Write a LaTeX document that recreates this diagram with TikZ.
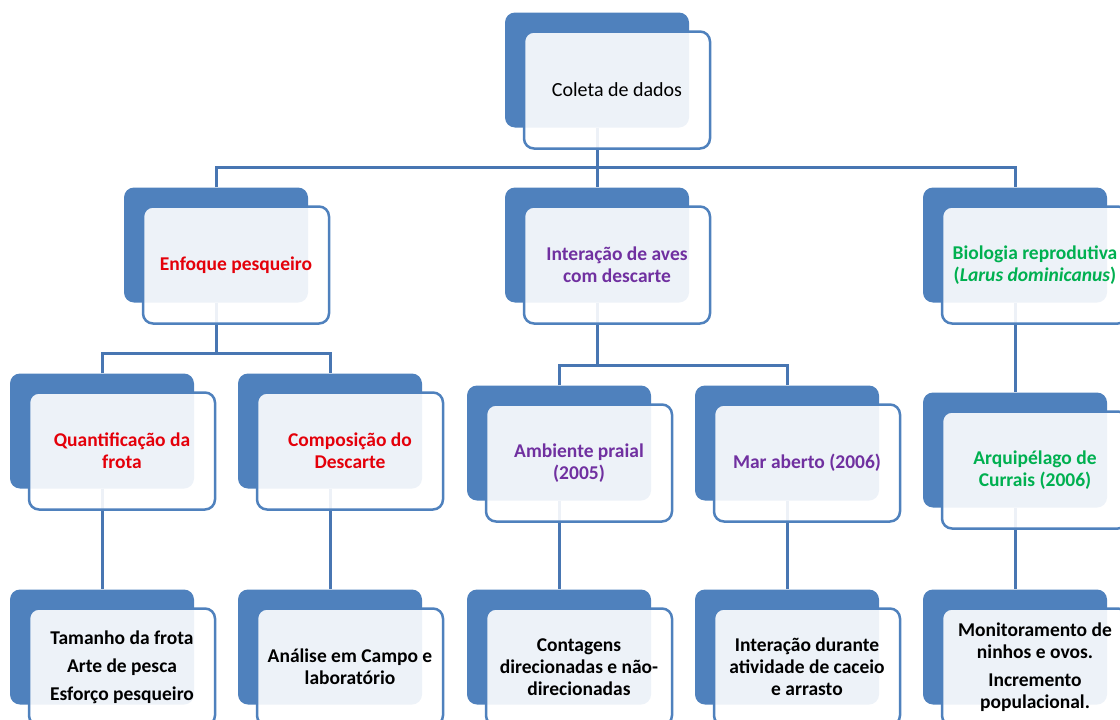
\documentclass[tikz,border=0pt]{standalone}
\usepackage{fontspec}
\setmainfont{Carlito}
\usetikzlibrary{backgrounds}
\definecolor{smartblue}{RGB}{79,129,189}
\definecolor{linkblue}{RGB}{72,118,178}
\definecolor{fishred}{RGB}{228,0,10}
\definecolor{birdpurple}{RGB}{112,48,160}
\definecolor{gullgreen}{RGB}{0,176,80}
\tikzset{
  backbox/.style={rectangle,rounded corners=10pt,fill=smartblue,minimum width=184pt,minimum height=115pt,inner sep=0pt},
  frontbox/.style={rectangle,rounded corners=10pt,draw=smartblue,line width=2.5pt,fill=white,fill opacity=0.9,text opacity=1,
    minimum width=186pt,minimum height=117pt,inner sep=2pt,align=center,font=\fontsize{19.5}{22}\selectfont\bfseries},
  link/.style={draw=linkblue,line width=3pt}
}

\begin{document}
\begin{tikzpicture}[x=1pt,y=-1pt]
        \useasboundingbox (0,0) rectangle (1120,720);
        \clip (0,0) rectangle (1120,720);

        % top
        \node[backbox] (coleta) at (597,70) {};
        \node[frontbox,font=\fontsize{20}{24}\selectfont] (coletatxt) at (617,90) {Coleta de dados};

        % first level
        \node[backbox] (enfoque) at (216,245) {};
        \node[frontbox,text=fishred] (enfoquetxt) at (236,265) {Enfoque pesqueiro};
        \node[backbox] (interacao) at (597,245) {};
        \node[frontbox,text=birdpurple] (interacaotxt) at (617,265) {Interação de aves\\com descarte};
        \node[backbox] (biologia) at (1015,245) {};
        \node[frontbox,text=gullgreen] (biologiatxt) at (1035,265) {Biologia reprodutiva\\(\textit{Larus dominicanus})};

        % second level
        \node[backbox] (frota) at (102,431) {};
        \node[frontbox,text=fishred] (frotatxt) at (122,451) {Quantificação da\\frota};
        \node[backbox] (descarte) at (330,431) {};
        \node[frontbox,text=fishred] (descartetxt) at (350,451) {Composição do\\Descarte};
        \node[backbox] (praial) at (559,443) {};
        \node[frontbox,text=birdpurple] (praialtxt) at (579,463) {Ambiente praial\\(2005)};
        \node[backbox] (mar) at (787,443) {};
        \node[frontbox,text=birdpurple] (martxt) at (807,463) {Mar aberto (2006)};
        \node[backbox] (currais) at (1015,450) {};
        \node[frontbox,text=gullgreen] (curraistxt) at (1035,470) {Arquipélago de\\Currais (2006)};

        % third level
        \node[backbox] (tamanho) at (102,647) {};
        \node[frontbox] (tamanhotxt) at (122,667) {Tamanho da frota\\[6pt]Arte de pesca\\[6pt]Esforço pesqueiro};
        \node[backbox] (analise) at (330,647) {};
        \node[frontbox] (analisetxt) at (350,667) {Análise em Campo e\\laboratório};
        \node[backbox] (contagens) at (559,647) {};
        \node[frontbox] (contagenstxt) at (579,667) {Contagens\\direcionadas e não-\\direcionadas};
        \node[backbox] (caceio) at (787,647) {};
        \node[frontbox] (caceiotxt) at (807,667) {Interação durante\\atividade de caceio\\e arrasto};
        \node[backbox] (ninhos) at (1015,647) {};
        \node[frontbox] (ninhostxt) at (1035,667) {Monitoramento de\\ninhos e ovos.\\[6pt]Incremento\\populacional.};

        \coordinate (bus1) at (597,167);
        \coordinate (bus2) at (216,353);
        \coordinate (bus3) at (597,365);

        \begin{scope}[on background layer]
            \draw[link] (coleta) -- (bus1);
            \draw[link] (enfoque.north) |- (bus1) -| (biologia.north);
            \draw[link] (bus1) -- (interacao.north);
            \draw[link] (enfoque) -- (bus2);
            \draw[link] (frota.north) |- (bus2) -| (descarte.north);
            \draw[link] (interacao) -- (bus3);
            \draw[link] (praial.north) |- (bus3) -| (mar.north);
            \draw[link] (biologia) -- (currais.north);
            \draw[link] (frota) -- (tamanho.north);
            \draw[link] (descarte) -- (analise.north);
            \draw[link] (praial) -- (contagens.north);
            \draw[link] (mar) -- (caceio.north);
            \draw[link] (currais) -- (ninhos.north);
        \end{scope}
    \end{tikzpicture}
\end{document}
